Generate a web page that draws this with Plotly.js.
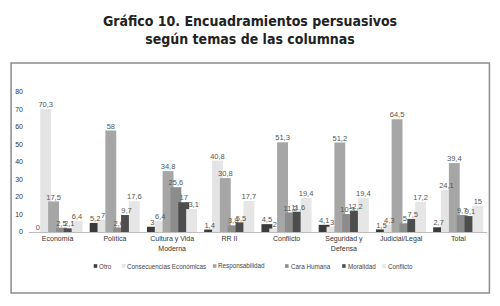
<!DOCTYPE html>
<html>
<head>
<meta charset="utf-8">
<script src="https://cdn.plot.ly/plotly-3.0.1.min.js"></script>
<style>html,body{margin:0;padding:0;background:#fff;}#chart{width:500px;height:306px;}</style>
</head>
<body>
<div id="chart"></div>
<script>
const categories = ["Economía", "Política", "Cultura y Vida<br>Moderna", "RR II", "Conflicto", "Seguridad y<br>Defensa", "Judicial/Legal", "Total"];
const seriesNames = ["Otro", "Consecuencias Económicas", "Responsabilidad", "Cara Humana", "Moralidad", "Conflicto"];
const otro = [0, 5.2, 3, 1.4, 4.5, 4.1, 1.5, 2.7];
const consecuenciasEconomicas = [70.3, 7, 6.4, 40.8, 2, 3, 4.3, 24.1];
const responsabilidad = [17.5, 58, 34.8, 30.8, 51.3, 51.2, 64.5, 39.4];
const caraHumana = [2.5, 2.6, 25.6, 3.8, 11.2, 10.3, 5, 9.7];
const moralidad = [2.1, 9.7, 17, 5.5, 11.6, 12.2, 7.5, 9.1];
const conflicto = [6.4, 17.6, 13.1, 17.7, 19.4, 19.4, 17.2, 15];
const yTicks = [0, 10, 20, 30, 40, 50, 60, 70, 80];

const series = [otro, consecuenciasEconomicas, responsabilidad, caraHumana, moralidad, conflicto];
const colors = ["#3a3a3a", "#e4e4e4", "#a6a6a6", "#8c8c8c", "#4d4d4d", "#e6e6e6"];

const W = 500, H = 306;
const ml = 29.4, mr = 13.4, mt = 92, mb = 74;
const pw = W - ml - mr, ph = H - mt - mb;
const px2x = p => (p - ml) / pw;
const py2y = p => (H - mb - p) / ph;

const fontAx = "Liberation Sans, Arial, sans-serif";
const barW = 0.19, pitch = 0.137, start = -0.44;

const traces = series.map((vals, i) => ({
  type: "bar",
  name: seriesNames[i],
  x: categories,
  y: vals,
  marker: {color: colors[i], line: {width: 0}},
  width: barW,
  offset: start + i * pitch,
  hoverinfo: "skip",
  showlegend: false
}));

// value labels drawn on an overlaying numeric axis so they sit above all bars
series.forEach((vals, i) => {
  traces.push({
    type: "scatter",
    mode: "text",
    xaxis: "x2",
    x: vals.map((v, j) => j + start + i * pitch + barW / 2),
    y: vals,
    text: vals.map(v => String(v).replace(".", ",")),
    textposition: "top center",
    textfont: {family: fontAx, size: 7.5, color: "#555"},
    cliponaxis: false,
    hoverinfo: "skip",
    showlegend: false
  });
});

const legendSq = [94, 122, 213, 285, 342, 382];
const legendY = 266;
const shapes = [{
  type: "rect", xref: "paper", yref: "paper",
  x0: px2x(11.5), x1: px2x(489), y0: py2y(63), y1: py2y(293),
  line: {color: "#8c8c8c", width: 1.5}, fillcolor: "rgba(0,0,0,0)", layer: "below"
}];
const annotations = [];
seriesNames.forEach((n, i) => {
  const sx = legendSq[i];
  shapes.push({
    type: "rect", xref: "paper", yref: "paper",
    x0: px2x(sx), x1: px2x(sx + 3.5), y0: py2y(legendY + 1.8), y1: py2y(legendY - 1.8),
    line: {width: 0}, fillcolor: colors[i]
  });
  annotations.push({
    xref: "paper", yref: "paper", x: px2x(sx + 3.5), y: py2y(legendY),
    xanchor: "left", yanchor: "middle", showarrow: false, text: n,
    font: {family: fontAx, size: 6.3, color: "#444"}
  });
});

const layout = {
  width: W, height: H,
  margin: {l: ml, r: mr, t: mt, b: mb, pad: 0},
  paper_bgcolor: "#fff", plot_bgcolor: "#fff",
  barmode: "overlay",
  title: {
    text: "Gráfico 10. Encuadramientos persuasivos<br>según temas de las columnas",
    x: 0.5, xref: "container", xanchor: "center",
    y: 1 - 26 / H, yref: "container", yanchor: "top",
    font: {family: "DejaVu Sans Condensed, DejaVu Sans, sans-serif", size: 14, color: "#222", weight: "bold"}
  },
  xaxis: {
    type: "category", range: [-0.5, 7.5], fixedrange: true,
    showline: true, linecolor: "#bdbdbd", linewidth: 1,
    showgrid: false, zeroline: false, ticks: "",
    tickfont: {family: fontAx, size: 7, color: "#333"}
  },
  xaxis2: {
    overlaying: "x", range: [-0.5, 7.5], visible: false, fixedrange: true
  },
  yaxis: {
    range: [0, 80], tickvals: yTicks, ticktext: yTicks.map(String),
    showline: false, showgrid: false, zeroline: false, ticks: "",
    ticklabelstandoff: 5,
    tickfont: {family: fontAx, size: 7, color: "#333"}
  },
  shapes: shapes,
  annotations: annotations,
  showlegend: false
};

Plotly.newPlot("chart", traces, layout, {staticPlot: true, displayModeBar: false});
</script>
</body>
</html>
